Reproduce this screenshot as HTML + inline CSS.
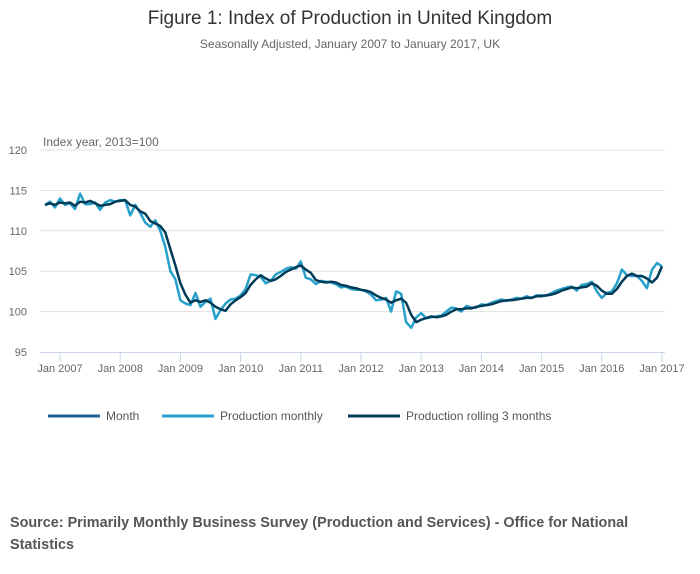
<!DOCTYPE html>
<html><head><meta charset="utf-8"><style>
body{margin:0;background:#fff;font-family:"Liberation Sans",sans-serif;}
#wrap{position:relative;width:700px;height:574px;overflow:hidden}
</style></head><body>
<div id="wrap">
<svg id="chart" width="700" height="574" style="position:absolute;left:0;top:0">
<text x="350" y="24" text-anchor="middle" font-size="19" fill="#333">Figure 1: Index of Production in United Kingdom</text>
<text x="350" y="48" text-anchor="middle" font-size="12" fill="#666">Seasonally Adjusted, January 2007 to January 2017, UK</text>
<text x="43" y="146" font-size="12" fill="#666">Index year, 2013=100</text>
<g id="grid"></g><g id="xaxis"></g><g id="series"></g>
<g>
<line x1="48" y1="416" x2="100" y2="416" stroke="#206095" stroke-width="3"/>
<text x="106" y="420" font-size="12" fill="#555">Month</text>
<line x1="162" y1="416" x2="214" y2="416" stroke="#27a0cc" stroke-width="3"/>
<text x="220" y="420" font-size="12" fill="#555">Production monthly</text>
<line x1="348" y1="416" x2="400" y2="416" stroke="#003c57" stroke-width="3"/>
<text x="406" y="420" font-size="12" fill="#555">Production rolling 3 months</text>
</g>
<text x="10" y="527" font-size="14.4" font-weight="bold" fill="#555">Source: Primarily Monthly Business Survey (Production and Services) - Office for National</text>
<text x="10" y="549" font-size="14.4" font-weight="bold" fill="#555">Statistics</text>
</svg>
</div>
<script>
const yTicks=[95,100,105,110,115,120];
const xYears=[2007,2008,2009,2010,2011,2012,2013,2014,2015,2016,2017];
const startMonthOffset=-3; // Oct 2006
const monthly=[113.2,113.6,112.9,
114.0,113.2,113.4,112.7,114.6,113.3,113.3,113.5,112.6,113.5,113.8,113.6,
113.8,113.8,111.9,113.2,112.2,111.0,110.5,111.3,110.0,108.0,105.0,104.0,
101.4,101.0,100.8,102.3,100.6,101.2,101.6,99.1,100.2,101.0,101.5,101.6,
102.0,102.8,104.6,104.5,104.3,103.5,103.8,104.6,104.9,105.3,105.5,105.3,
106.2,104.2,104.0,103.4,103.8,103.7,103.6,103.4,103.0,103.1,102.8,102.7,
102.7,102.5,102.1,101.4,101.5,101.7,100.0,102.5,102.2,98.7,98.0,99.3,
99.8,99.2,99.3,99.4,99.5,100.0,100.5,100.4,100.0,100.7,100.5,100.5,
100.9,100.8,101.1,101.3,101.5,101.3,101.5,101.7,101.6,101.9,101.7,102.0,
102.0,102.0,102.3,102.6,102.8,103.0,103.1,102.6,103.3,103.4,103.7,102.5,
101.7,102.3,102.5,103.5,105.2,104.5,104.4,104.4,103.8,102.9,105.2,106.0,
105.6];
const rolling=[113.2,113.4,113.2,
113.5,113.4,113.5,113.1,113.6,113.5,113.7,113.4,113.1,113.2,113.3,113.6,
113.7,113.8,113.2,113.0,112.4,112.1,111.2,110.9,110.6,109.8,107.7,105.7,
103.5,102.1,101.1,101.4,101.2,101.4,101.1,100.6,100.3,100.1,100.9,101.4,
101.8,102.3,103.3,104.0,104.5,104.1,103.8,104.0,104.4,104.9,105.2,105.5,
105.7,105.2,104.8,103.9,103.7,103.6,103.7,103.6,103.3,103.2,103.0,102.9,
102.7,102.6,102.4,102.0,101.7,101.5,101.1,101.4,101.6,101.1,99.6,98.7,
99.0,99.2,99.4,99.3,99.4,99.6,100.0,100.3,100.3,100.4,100.4,100.6,
100.7,100.8,100.9,101.1,101.3,101.4,101.4,101.5,101.6,101.7,101.7,101.9,
101.9,102.0,102.1,102.3,102.6,102.8,103.0,102.9,103.0,103.1,103.5,103.2,
102.6,102.2,102.2,102.8,103.7,104.4,104.7,104.4,104.4,104.1,103.6,104.2,
105.6];
const NS='http://www.w3.org/2000/svg';
const x=m=>60+(m/120)*602;
const y=v=>352-(v-95)*(202/25);
function mk(tag,attrs,parent){const e=document.createElementNS(NS,tag);for(const k in attrs)e.setAttribute(k,attrs[k]);parent.appendChild(e);return e;}
const grid=document.getElementById('grid');
yTicks.forEach(t=>{
  if(t>95){const l=mk('line',{x1:40,x2:665,y1:y(t),y2:y(t),stroke:'#e0e0e0','stroke-width':1},grid);
  
  }
  const tx=mk('text',{x:27,y:y(t)+4,'font-size':11,fill:'#666','text-anchor':'end'},grid);
  tx.textContent=t;
  
  
});
const xa=document.getElementById('xaxis');
const ax=mk('line',{x1:40,x2:665,y1:352.5,y2:352.5,stroke:'#ccd6eb','stroke-width':1},xa);


xYears.forEach((yr,i)=>{
  const px=x(i*12);
  const tk=mk('line',{x1:px,x2:px,y1:352,y2:362,stroke:'#ccd6eb'},xa);
  
  
  const tx=mk('text',{x:px,y:372,'font-size':11,fill:'#666','text-anchor':'middle'},xa);
  tx.textContent='Jan '+yr;
  
  
});
const sg=document.getElementById('series');
function line(arr,color,name){
  const d=arr.map((v,i)=>(i?'L':'M')+x(i+startMonthOffset).toFixed(1)+','+y(v).toFixed(1)).join('');
  const p=mk('path',{d:d,fill:'none',stroke:color,'stroke-width':2.5,'stroke-linejoin':'round'},sg);
  
  
}
line(monthly,'#27a0cc','production-monthly-line');
line(rolling,'#003c57','production-rolling-line');
</script>
</body></html>
